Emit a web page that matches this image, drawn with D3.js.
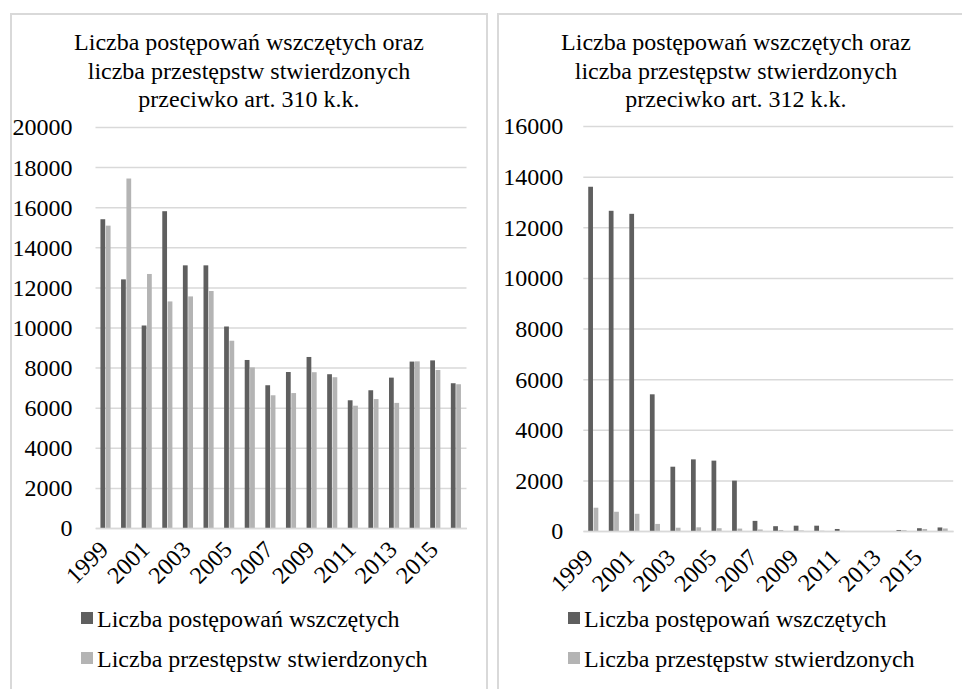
<!DOCTYPE html>
<html>
<head>
<meta charset="utf-8">
<script src="https://cdn.jsdelivr.net/npm/d3@7"></script>
<style>
body { margin: 0; background: #fff; }
svg { display: block; font-family: "Liberation Serif", "Times New Roman", serif; }
</style>
</head>
<body>
<div id="chart"></div>
<script>
// Data
const years = ["1999", "2000", "2001", "2002", "2003", "2004", "2005", "2006", "2007",
               "2008", "2009", "2010", "2011", "2012", "2013", "2014", "2015", "2016"];
const labelYears = ["1999", "2001", "2003", "2005", "2007", "2009", "2011", "2013", "2015"];
const seriesNames = ["Liczba postępowań wszczętych", "Liczba przestępstw stwierdzonych"];

// art. 310 k.k.
const started310 = [15400, 12400, 10100, 15800, 13100, 13100, 10050, 8380, 7120,
                    7780, 8530, 7670, 6370, 6870, 7500, 8300, 8360, 7220];
const found310 = [15080, 17430, 12670, 11300, 11550, 11820, 9340, 8010, 6620,
                  6730, 7770, 7520, 6100, 6430, 6240, 8310, 7880, 7170];
const ticks310 = [0, 2000, 4000, 6000, 8000, 10000, 12000, 14000, 16000, 18000, 20000];
const title310 = ["Liczba postępowań wszczętych oraz", "liczba przestępstw stwierdzonych", "przeciwko art. 310 k.k."];

// art. 312 k.k.
const started312 = [13600, 12650, 12530, 5400, 2540, 2830, 2780, 1990, 400,
                    190, 210, 210, 80, 0, 0, 40, 110, 140];
const found312 = [920, 760, 680, 280, 130, 145, 110, 95, 60,
                  40, 20, 10, 5, 0, 0, 30, 80, 100];
const ticks312 = [0, 2000, 4000, 6000, 8000, 10000, 12000, 14000, 16000];
const title312 = ["Liczba postępowań wszczętych oraz", "liczba przestępstw stwierdzonych", "przeciwko art. 312 k.k."];

const width = 962, height = 689;
const colors = ["#5f5f5f", "#b4b4b4"];
const gridColor = "#d9d9d9";
const fontSize = "24px";

const svg = d3.select("#chart")
  .append("svg")
  .attr("width", width)
  .attr("height", height);

function drawPanel(p) {
  // panel frame
  svg.append("rect")
    .attr("x", p.left)
    .attr("y", 14)
    .attr("width", 476)
    .attr("height", 700)
    .attr("fill", "none")
    .attr("stroke", gridColor)
    .attr("stroke-width", 2);

  const x0 = d3.scaleBand()
    .domain(years)
    .range([p.x0, p.x1])
    .paddingInner(0.48)
    .paddingOuter(0.24);

  const x1 = d3.scaleBand()
    .domain([0, 1])
    .range([0, x0.bandwidth()]);

  const y = d3.scaleLinear()
    .domain([0, d3.max(p.ticks)])
    .range([p.yBottom, p.yTop]);

  // y axis + gridlines
  const yAxis = svg.append("g")
    .attr("transform", `translate(${p.x0},0)`)
    .call(d3.axisLeft(y)
      .tickValues(p.ticks)
      .tickFormat(d3.format("d"))
      .tickSize(-(p.x1 - p.x0))
      .tickPadding(p.pad));
  yAxis.select(".domain").remove();
  yAxis.attr("font-family", null).attr("font-size", null);
  yAxis.selectAll("line").attr("stroke", gridColor).attr("stroke-width", 1.5);
  yAxis.selectAll("text")
    .attr("fill", "#000")
    .style("font-size", fontSize)
    .attr("dy", "0.33em");

  // bars
  const groups = svg.append("g")
    .selectAll("g")
    .data(years)
    .enter()
    .append("g")
    .attr("transform", d => `translate(${x0(d)},0)`);

  groups.selectAll("rect")
    .data((d, i) => [p.a[i], p.b[i]])
    .enter()
    .append("rect")
    .attr("x", (d, j) => x1(j))
    .attr("y", d => y(d))
    .attr("width", x1.bandwidth() - 0.6)
    .attr("height", d => p.yBottom - y(d))
    .attr("fill", (d, j) => colors[j]);

  // x axis
  const xAxis = svg.append("g")
    .attr("transform", `translate(0,${p.yBottom})`)
    .call(d3.axisBottom(x0).tickValues(labelYears).tickSize(0).tickSizeOuter(0));
  xAxis.attr("font-family", null).attr("font-size", null);
  xAxis.select(".domain").attr("stroke", gridColor).attr("stroke-width", 1.5);
  xAxis.selectAll("text")
    .attr("x", 0)
    .attr("y", 0)
    .attr("dy", 0)
    .attr("text-anchor", "end")
    .attr("transform", `translate(${p.lx},${p.ly}) rotate(-45)`)
    .attr("fill", "#000")
    .style("font-size", fontSize);

  // title
  svg.append("g")
    .selectAll("text")
    .data(p.title)
    .enter()
    .append("text")
    .attr("x", p.cx)
    .attr("y", (d, i) => 50 + i * 28.5)
    .attr("text-anchor", "middle")
    .style("font-size", fontSize)
    .text(d => d);

  // legend
  const legend = svg.append("g")
    .selectAll("g")
    .data(seriesNames)
    .enter()
    .append("g")
    .attr("transform", (d, i) => `translate(${p.legendX},${627 + i * 40})`);

  legend.append("rect")
    .attr("x", 0)
    .attr("y", -15)
    .attr("width", 12)
    .attr("height", 12)
    .attr("fill", (d, i) => colors[i]);

  legend.append("text")
    .attr("x", 16)
    .attr("y", 0)
    .style("font-size", fontSize)
    .text(d => d);
}

drawPanel({
  left: 11, x0: 95.5, x1: 466.5, yTop: 127, yBottom: 528, pad: 23,
  cx: 249, lx: 4, ly: 23, legendX: 81,
  ticks: ticks310, a: started310, b: found310, title: title310
});

drawPanel({
  left: 498, x0: 583.3, x1: 953.2, yTop: 126, yBottom: 531, pad: 20,
  cx: 736, lx: 1, ly: 28, legendX: 568,
  ticks: ticks312, a: started312, b: found312, title: title312
});
</script>
</body>
</html>
